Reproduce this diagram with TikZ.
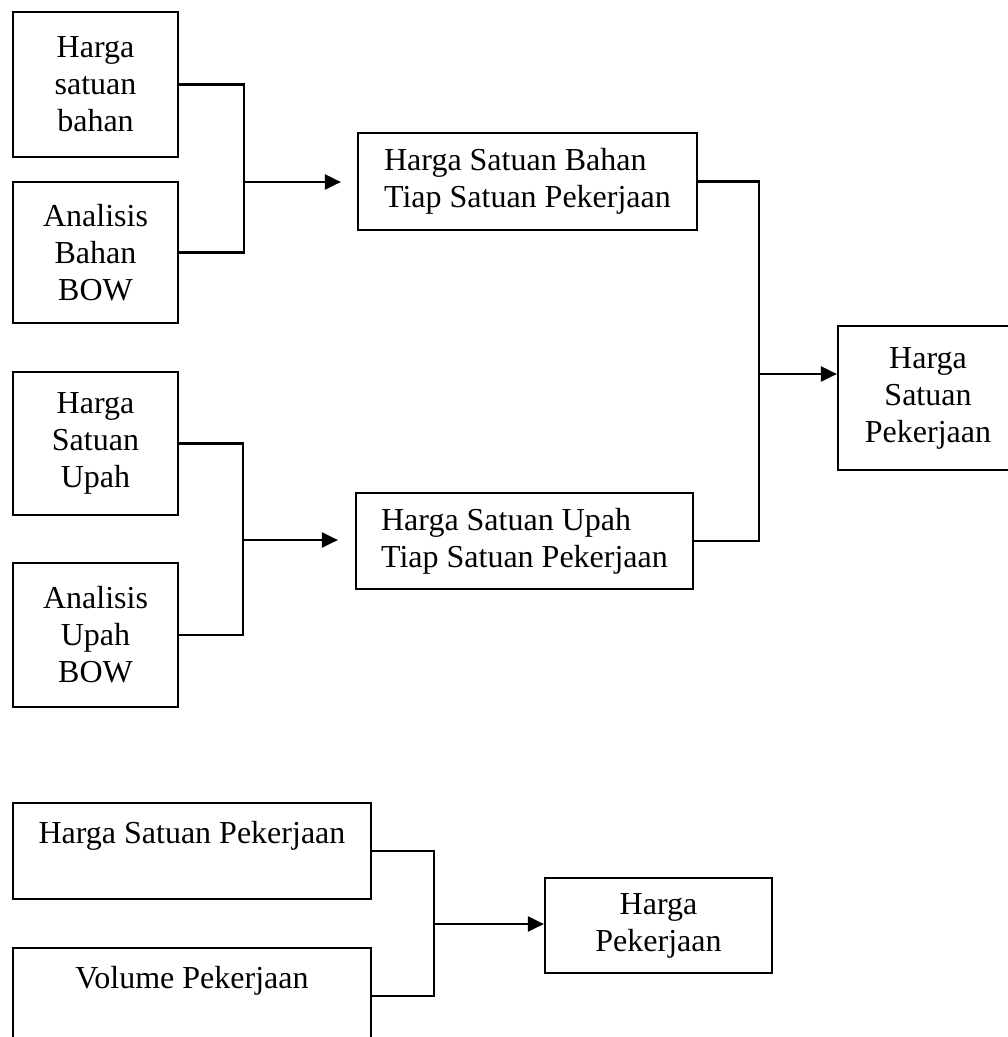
\documentclass[tikz,border=0pt]{standalone}
\usepackage{fontspec}
\setmainfont{Liberation Serif}
\usetikzlibrary{arrows.meta}
\begin{document}
\begin{tikzpicture}[x=1pt,y=-1pt,
  box/.style={draw, line width=2.2pt, inner sep=0pt, align=center, font=\fontsize{32}{37}\selectfont},
  lbox/.style={box, align=left},
  topbox/.style={box, text height=24pt, text depth=39pt},
  conn/.style={line width=2.2pt},
  arr/.style={conn, -{Triangle[length=16pt,width=15pt]}}]
\useasboundingbox (0,0) rectangle (1008,1037);
\clip (0,0) rectangle (1008,1037);
\node[box, minimum width=165pt, minimum height=145pt] (a) at (95.5,84.5) {Harga\\satuan\\bahan};
\node[box, minimum width=165pt, minimum height=141pt] (b) at (95.5,252.5) {Analisis\\Bahan\\BOW};
\node[box, minimum width=165pt, minimum height=143pt] (c) at (95.5,443.5) {Harga\\Satuan\\Upah};
\node[box, minimum width=165pt, minimum height=144pt] (d) at (95.5,635) {Analisis\\Upah\\BOW};
\node[lbox, minimum width=339pt, minimum height=97pt] (e) at (527.5,181.5) {Harga Satuan Bahan\\Tiap Satuan Pekerjaan};
\node[lbox, minimum width=337pt, minimum height=96pt] (f) at (524.5,541) {Harga Satuan Upah\\Tiap Satuan Pekerjaan};
\node[box, minimum width=180pt, minimum height=144pt] (g) at (928,398) {Harga\\Satuan\\Pekerjaan};
\node[topbox, minimum width=358pt, minimum height=96pt] (h) at (192,851) {Harga Satuan Pekerjaan};
\node[topbox, minimum width=358pt, minimum height=96pt] (i) at (192,996) {Volume Pekerjaan};
\node[box, minimum width=227pt, minimum height=95pt] (j) at (658.5,925.5) {Harga\\Pekerjaan};
\coordinate (m1) at (244,182);
\coordinate (m2) at (243,540);
\coordinate (m3) at (759,374);
\coordinate (m4) at (434,924);
\draw[conn] (a.east) -| (m1) |- (b.east);
\draw[arr, shorten >=16pt] (m1) -- (m1 -| e.west);
\draw[conn] (c.east) -| (m2) |- (d.east);
\draw[arr, shorten >=17pt] (m2) -- (m2 -| f.west);
\draw[conn] (e.east) -| (m3) |- (f.east);
\draw[arr] (m3) -- (m3 -| g.west);
\draw[conn] (h.east) -| (m4) |- (i.east);
\draw[arr] (m4) -- (m4 -| j.west);
\end{tikzpicture}
\end{document}
